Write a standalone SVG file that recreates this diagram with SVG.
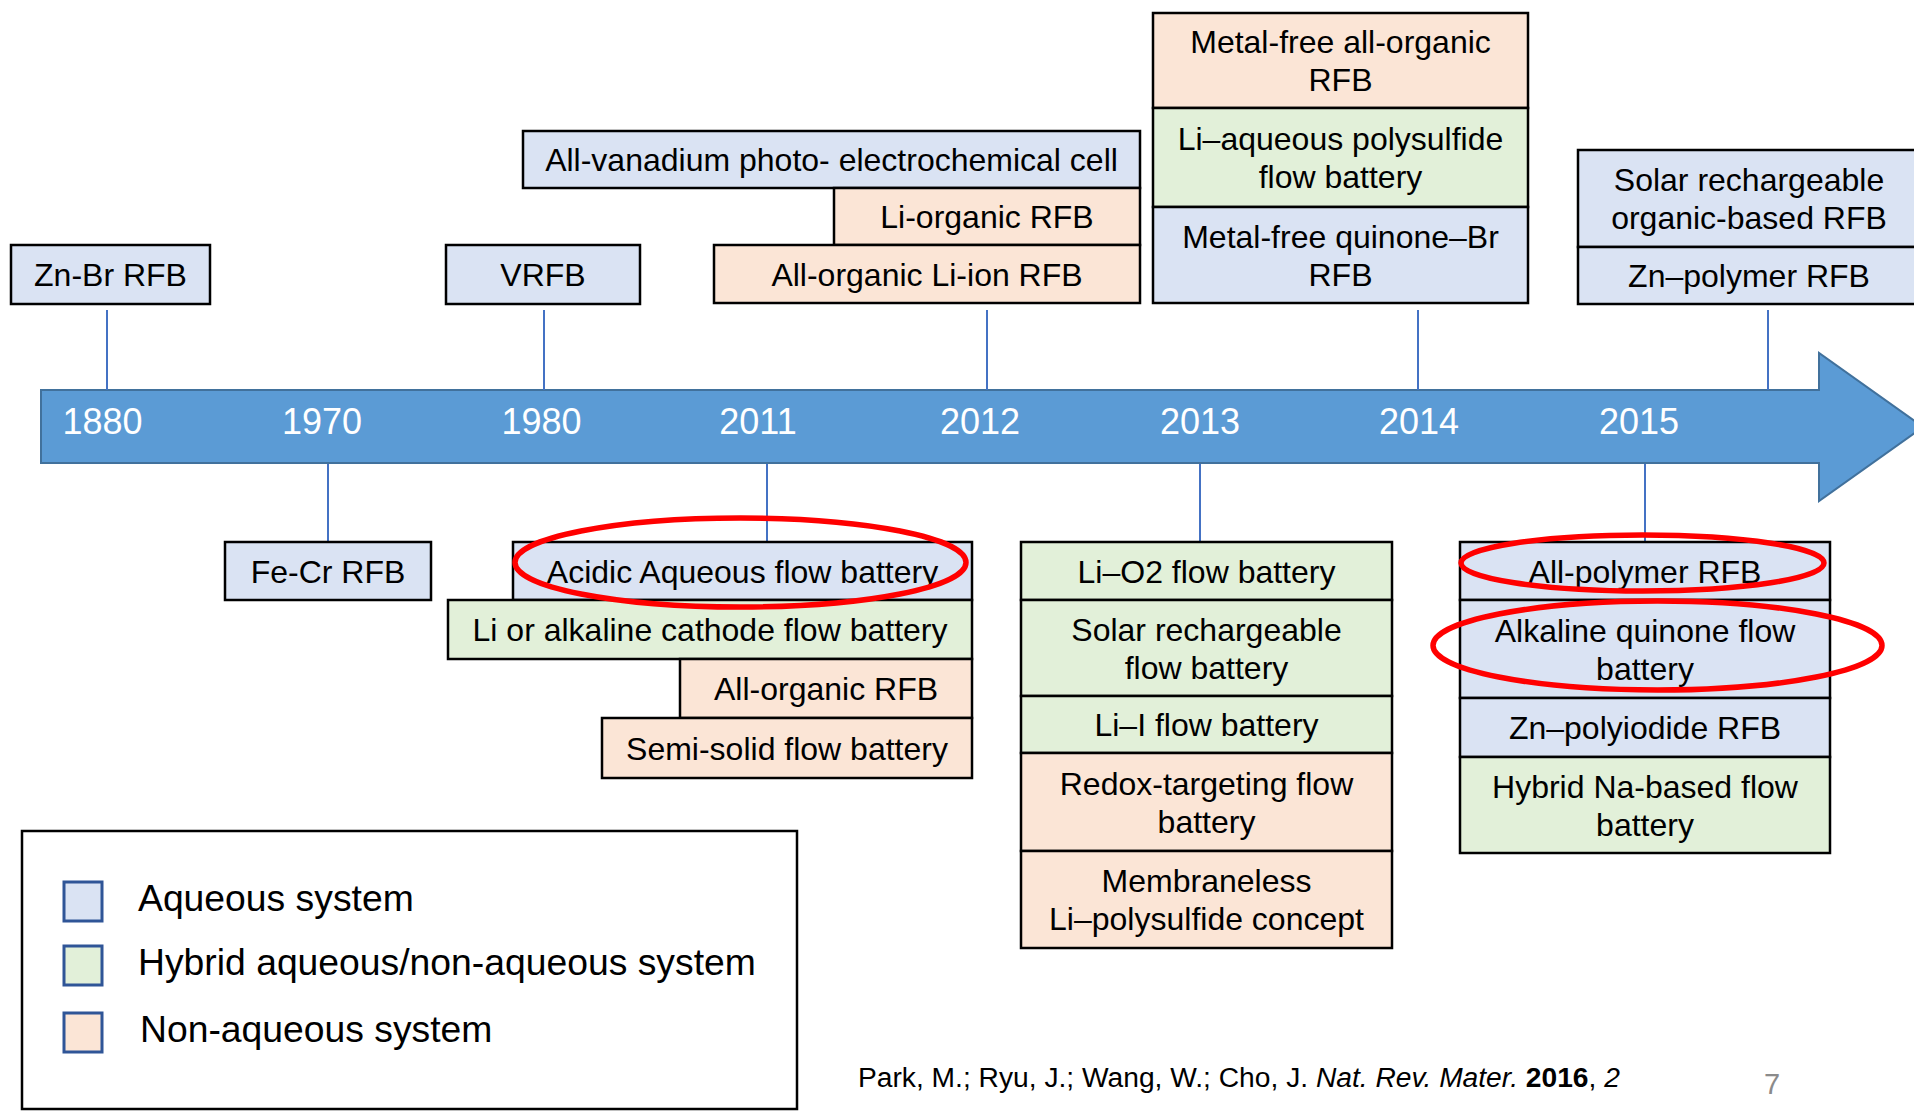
<svg xmlns="http://www.w3.org/2000/svg" width="1914" height="1112" viewBox="0 0 1914 1112">
  <style>
    text { font-family: "Liberation Sans", Arial, sans-serif; fill: #000; }
    .lbl { font-size: 32px; text-anchor: middle; }
    .year { font-size: 36px; fill: #fff; text-anchor: middle; }
    .leg { font-size: 37.3px; }
    .box { stroke: #000; stroke-width: 2.5; }
    .aq { fill: #DAE3F3; }
    .hy { fill: #E2F0D9; }
    .na { fill: #FBE5D6; }
    .tick { stroke: #4472C4; stroke-width: 2; }
    .ring { fill: none; stroke: #FF0000; stroke-width: 5.5; }
    .swatch { stroke: #2F5597; stroke-width: 3; }
  </style>

  <!-- timeline arrow -->
  <g id="timeline">
    <polygon points="41,390 1819,390 1819,353 1923,427 1819,501 1819,463 41,463" fill="#5B9BD5" stroke="#41719C" stroke-width="2"/>
    <text class="year" x="102.5" y="434">1880</text>
    <text class="year" x="322" y="434">1970</text>
    <text class="year" x="541.5" y="434">1980</text>
    <text class="year" x="758" y="434">2011</text>
    <text class="year" x="980" y="434">2012</text>
    <text class="year" x="1200" y="434">2013</text>
    <text class="year" x="1419" y="434">2014</text>
    <text class="year" x="1639" y="434">2015</text>
  </g>

  <!-- ticks joining entries to the timeline -->
  <g id="connectors">
    <line class="tick" x1="107" y1="310" x2="107" y2="390"/>
    <line class="tick" x1="544" y1="310" x2="544" y2="390"/>
    <line class="tick" x1="987" y1="310" x2="987" y2="390"/>
    <line class="tick" x1="1418" y1="310" x2="1418" y2="390"/>
    <line class="tick" x1="1768" y1="310" x2="1768" y2="390"/>
    <line class="tick" x1="328" y1="464" x2="328" y2="542"/>
    <line class="tick" x1="767" y1="464" x2="767" y2="542"/>
    <line class="tick" x1="1200" y1="464" x2="1200" y2="542"/>
    <line class="tick" x1="1645" y1="464" x2="1645" y2="542"/>
  </g>

  <!-- entries above the timeline -->
  <g id="zn-br">
    <rect class="box aq" x="11" y="245" width="199" height="59"/>
    <text class="lbl" x="110.5" y="286">Zn-Br RFB</text>
  </g>
  <g id="vrfb">
    <rect class="box aq" x="446" y="245" width="194" height="59"/>
    <text class="lbl" x="543" y="286">VRFB</text>
  </g>
  <g id="all-vanadium">
    <rect class="box aq" x="523" y="131" width="617" height="57"/>
    <text class="lbl" x="831.5" y="171">All-vanadium photo- electrochemical cell</text>
  </g>
  <g id="li-organic">
    <rect class="box na" x="834" y="188" width="306" height="57"/>
    <text class="lbl" x="987" y="228">Li-organic RFB</text>
  </g>
  <g id="all-organic-li-ion">
    <rect class="box na" x="714" y="245" width="426" height="58"/>
    <text class="lbl" x="927" y="286">All-organic Li-ion RFB</text>
  </g>
  <g id="metal-free-all-organic">
    <rect class="box na" x="1153" y="13" width="375" height="95"/>
    <text class="lbl" x="1340.5" y="53">Metal-free all-organic</text>
    <text class="lbl" x="1340.5" y="91">RFB</text>
  </g>
  <g id="li-aqueous-polysulfide">
    <rect class="box hy" x="1153" y="108" width="375" height="99"/>
    <text class="lbl" x="1340.5" y="150">Li–aqueous polysulfide</text>
    <text class="lbl" x="1340.5" y="188">flow battery</text>
  </g>
  <g id="metal-free-quinone-br">
    <rect class="box aq" x="1153" y="207" width="375" height="96"/>
    <text class="lbl" x="1340.5" y="247.5">Metal-free quinone–Br</text>
    <text class="lbl" x="1340.5" y="285.5">RFB</text>
  </g>
  <g id="solar-organic">
    <rect class="box aq" x="1578" y="150" width="345" height="97"/>
    <text class="lbl" x="1749" y="191">Solar rechargeable</text>
    <text class="lbl" x="1749" y="229">organic-based RFB</text>
  </g>
  <g id="zn-polymer">
    <rect class="box aq" x="1578" y="247" width="345" height="57"/>
    <text class="lbl" x="1749" y="287">Zn–polymer RFB</text>
  </g>

  <!-- entries below the timeline -->
  <g id="fe-cr">
    <rect class="box aq" x="225" y="542" width="206" height="58"/>
    <text class="lbl" x="328" y="582.5">Fe-Cr RFB</text>
  </g>
  <g id="acidic-aqueous">
    <rect class="box aq" x="513" y="542" width="459" height="58"/>
    <text class="lbl" x="742.5" y="582.5">Acidic Aqueous flow battery</text>
  </g>
  <g id="li-alkaline-cathode">
    <rect class="box hy" x="448" y="600" width="524" height="59"/>
    <text class="lbl" x="710" y="641">Li or alkaline cathode flow battery</text>
  </g>
  <g id="all-organic">
    <rect class="box na" x="680" y="659" width="292" height="59"/>
    <text class="lbl" x="826" y="700">All-organic RFB</text>
  </g>
  <g id="semi-solid">
    <rect class="box na" x="602" y="718" width="370" height="60"/>
    <text class="lbl" x="787" y="759.5">Semi-solid flow battery</text>
  </g>
  <g id="li-o2">
    <rect class="box hy" x="1021" y="542" width="371" height="58"/>
    <text class="lbl" x="1206.5" y="582.5">Li–O2 flow battery</text>
  </g>
  <g id="solar-flow">
    <rect class="box hy" x="1021" y="600" width="371" height="96"/>
    <text class="lbl" x="1206.5" y="640.5">Solar rechargeable</text>
    <text class="lbl" x="1206.5" y="678.5">flow battery</text>
  </g>
  <g id="li-i">
    <rect class="box hy" x="1021" y="696" width="371" height="57"/>
    <text class="lbl" x="1206.5" y="736">Li–I flow battery</text>
  </g>
  <g id="redox-targeting">
    <rect class="box na" x="1021" y="753" width="371" height="98"/>
    <text class="lbl" x="1206.5" y="794.5">Redox-targeting flow</text>
    <text class="lbl" x="1206.5" y="832.5">battery</text>
  </g>
  <g id="membraneless">
    <rect class="box na" x="1021" y="851" width="371" height="97"/>
    <text class="lbl" x="1206.5" y="892">Membraneless</text>
    <text class="lbl" x="1206.5" y="930">Li–polysulfide concept</text>
  </g>
  <g id="all-polymer">
    <rect class="box aq" x="1460" y="542" width="370" height="58"/>
    <text class="lbl" x="1645" y="582.5">All-polymer RFB</text>
  </g>
  <g id="alkaline-quinone">
    <rect class="box aq" x="1460" y="600" width="370" height="98"/>
    <text class="lbl" x="1645" y="641.5">Alkaline quinone flow</text>
    <text class="lbl" x="1645" y="679.5">battery</text>
  </g>
  <g id="zn-polyiodide">
    <rect class="box aq" x="1460" y="698" width="370" height="59"/>
    <text class="lbl" x="1645" y="739">Zn–polyiodide RFB</text>
  </g>
  <g id="hybrid-na">
    <rect class="box hy" x="1460" y="757" width="370" height="96"/>
    <text class="lbl" x="1645" y="797.5">Hybrid Na-based flow</text>
    <text class="lbl" x="1645" y="835.5">battery</text>
  </g>

  <!-- highlight rings -->
  <g id="highlights">
    <ellipse class="ring" cx="740.5" cy="562.5" rx="225.5" ry="44.5"/>
    <ellipse class="ring" cx="1642.5" cy="563" rx="181.5" ry="28"/>
    <ellipse class="ring" cx="1657.5" cy="645.5" rx="224.5" ry="44.5"/>
  </g>

  <!-- legend -->
  <g id="legend">
    <rect x="22" y="831" width="775" height="278" fill="#fff" stroke="#000" stroke-width="2.5"/>
    <rect class="swatch aq" x="64" y="882" width="38" height="39"/>
    <rect class="swatch hy" x="64" y="946" width="38" height="39"/>
    <rect class="swatch na" x="64" y="1013" width="38" height="39"/>
    <text class="leg" x="138" y="911">Aqueous system</text>
    <text class="leg" x="138" y="975">Hybrid aqueous/non-aqueous system</text>
    <text class="leg" x="140" y="1042">Non-aqueous system</text>
  </g>

  <!-- reference and page number -->
  <g id="footer">
    <text x="858" y="1087" font-size="28.2">Park, M.; Ryu, J.; Wang, W.; Cho, J. <tspan font-style="italic">Nat. Rev. Mater.</tspan> <tspan font-weight="bold">2016</tspan>, <tspan font-style="italic">2</tspan></text>
    <text x="1772" y="1094" font-size="29" style="fill:#8B8B8B" text-anchor="middle">7</text>
  </g>
</svg>
